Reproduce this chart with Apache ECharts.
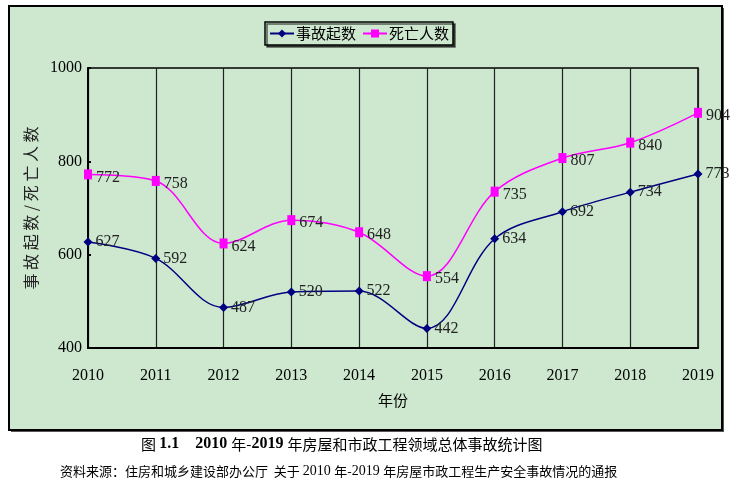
<!DOCTYPE html>
<html><head><meta charset="utf-8">
<script src="https://cdn.jsdelivr.net/npm/echarts@6/dist/echarts.min.js"></script>
<style>html,body{margin:0;padding:0;background:#fff}#c{width:738px;height:497px}</style>
</head><body><div id="c"></div>
<script>
const years = ['2010','2011','2012','2013','2014','2015','2016','2017','2018','2019'];
const accidents = [627, 592, 487, 520, 522, 442, 634, 692, 734, 773];
const deaths = [772, 758, 624, 674, 648, 554, 735, 807, 840, 904];
const seriesNames = ['事故起数', '死亡人数'];
const yTicks = {min: 400, max: 1000, interval: 200};

const FONT = '"Liberation Serif","Noto Sans CJK SC",serif';
const chart = echarts.init(document.getElementById('c'));
chart.setOption({
  animation: false,
  backgroundColor: '#ffffff',
  graphic: [
    {type:'rect', shape:{x:11,y:8,width:713,height:424}, style:{fill:'#555'}, z:-2, silent:true},
    {type:'rect', shape:{x:9,y:6,width:713,height:424}, style:{fill:'#cde8cf', stroke:'#000', lineWidth:2}, z:-1, silent:true},
    {type:'text', x:141, y:436, style:{rich:{a:{fontFamily:'"Noto Sans CJK SC"',fontSize:15,fill:'#000'}, b:{fontFamily:'"Liberation Serif"',fontWeight:'bold',fontSize:16,fill:'#000'}}, text:'{a|图 }{b|1.1    2010 }{a|年-}{b|2019 }{a|年房屋和市政工程领域总体事故统计图}'}},
    {type:'text', x:60, y:464, style:{rich:{a:{fontFamily:'"Noto Sans CJK SC"',fontSize:13,fill:'#000'}, b:{fontFamily:'"Liberation Serif"',fontSize:14,fill:'#000'}}, text:'{a|资料来源：住房和城乡建设部办公厅  关于 }{b|2010 }{a|年-}{b|2019 }{a|年房屋市政工程生产安全事故情况的通报}'}}
  ],
  legend: {
    top: 22, left: 265,
    data: seriesNames,
    borderColor: '#000', borderWidth: 1.5,
    shadowColor: 'rgba(0,0,0,0.6)', shadowOffsetX: 2, shadowOffsetY: 2,
    backgroundColor: '#cde8cf',
    padding: [4, 4, 4, 4],
    itemGap: 6, itemWidth: 24, itemHeight: 10,
    textStyle: {fontFamily: '"Noto Sans CJK SC"', fontSize: 15, color: '#000', padding:[0,0,0,-3]}
  },
  grid: {left: 88, right: 40, top: 68, bottom: 149, show: true, borderColor: '#000', borderWidth: 1.5},
  xAxis: {
    type: 'category', data: years, boundaryGap: false,
    name: '年份', nameLocation: 'middle', nameGap: 45,
    nameTextStyle: {fontFamily: '"Noto Sans CJK SC"', fontSize: 15, color: '#000'},
    axisLine: {lineStyle: {color: '#000', width: 2}},
    axisTick: {show: false},
    axisLabel: {fontFamily: FONT, fontSize: 16, color: '#000', margin: 20},
    splitLine: {show: true, lineStyle: {color: '#222', width: 1.2}}
  },
  yAxis: {
    type: 'value', min: yTicks.min, max: yTicks.max, interval: yTicks.interval,
    name: '事 故 起 数 / 死 亡 人 数', nameLocation: 'middle', nameGap: 46, nameRotate: 90,
    nameTextStyle: {fontFamily: '"Noto Sans CJK SC"', fontSize: 16, color: '#222'},
    axisLine: {show: true, lineStyle: {color: '#000', width: 2}},
    axisTick: {show: true, inside: true, length: 3, lineStyle: {color: '#000', width: 2}},
    axisLabel: {fontFamily: FONT, fontSize: 16, color: '#000', margin: 6, formatter: v => String(v)},
    splitLine: {show: false}
  },
  series: [
    {
      name: seriesNames[0], type: 'line', data: accidents, smooth: 0.35,
      symbol: 'diamond', symbolSize: 9,
      itemStyle: {color: '#000080'}, lineStyle: {color: '#000080', width: 1.5},
      label: {show: true, position: 'right', distance: 3, fontFamily: FONT, fontSize: 16, color: '#222'}
    },
    {
      name: seriesNames[1], type: 'line', data: deaths, smooth: 0.35,
      symbol: 'rect', symbolSize: [8, 10],
      itemStyle: {color: '#ff00ff'}, lineStyle: {color: '#ff00ff', width: 1.5},
      label: {show: true, position: 'right', distance: 4, fontFamily: FONT, fontSize: 16, color: '#222', offset:[0,3]}
    }
  ]
});
</script></body></html>
